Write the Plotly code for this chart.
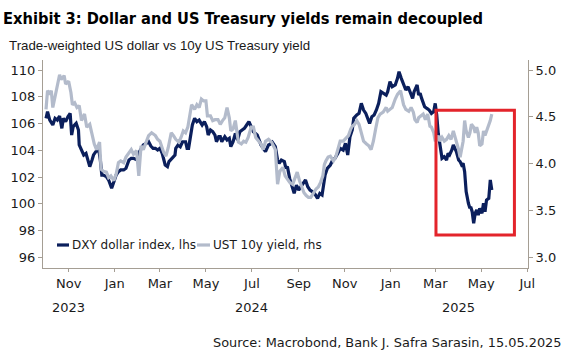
import plotly.graph_objects as go

# ---------------- data ----------------
dxy_dates = [
    "2023-10-02","2023-10-04","2023-10-07","2023-10-11","2023-10-14","2023-10-17","2023-10-20",
    "2023-10-23","2023-10-25","2023-10-28","2023-10-31","2023-11-03","2023-11-05","2023-11-07",
    "2023-11-11","2023-11-14","2023-11-15","2023-11-18","2023-11-21","2023-11-24","2023-11-27",
    "2023-11-29","2023-12-02","2023-12-04","2023-12-07","2023-12-11","2023-12-13","2023-12-15",
    "2023-12-17","2023-12-21","2023-12-24","2023-12-28","2023-12-31","2024-01-03","2024-01-06",
    "2024-01-09","2024-01-13","2024-01-16","2024-01-20","2024-01-23","2024-01-26","2024-01-31",
    "2024-02-03","2024-02-06","2024-02-08","2024-02-12","2024-02-15","2024-02-18","2024-02-21",
    "2024-02-24","2024-02-27","2024-03-01","2024-03-04","2024-03-08","2024-03-11","2024-03-13",
    "2024-03-17","2024-03-21","2024-03-22","2024-03-25","2024-03-28","2024-03-31","2024-04-04",
    "2024-04-06","2024-04-08","2024-04-10","2024-04-13","2024-04-16","2024-04-19","2024-04-22",
    "2024-04-26","2024-04-29","2024-05-02","2024-05-04","2024-05-07","2024-05-10","2024-05-13",
    "2024-05-15","2024-05-18","2024-05-20","2024-05-22","2024-05-26","2024-05-29","2024-06-01",
    "2024-06-03","2024-06-06","2024-06-09","2024-06-12","2024-06-15","2024-06-18","2024-06-21",
    "2024-06-24","2024-06-27","2024-07-03","2024-07-08","2024-07-13","2024-07-16","2024-07-19",
    "2024-07-23","2024-07-25","2024-07-28","2024-08-01","2024-08-04","2024-08-06","2024-08-09",
    "2024-08-13","2024-08-15","2024-08-17","2024-08-20","2024-08-23","2024-08-26","2024-08-29",
    "2024-09-01","2024-09-04","2024-09-08","2024-09-10","2024-09-13","2024-09-16","2024-09-19",
    "2024-09-22","2024-09-26","2024-09-29","2024-10-02","2024-10-04","2024-10-06","2024-10-09",
    "2024-10-13","2024-10-16","2024-10-19","2024-10-23","2024-10-26","2024-10-30","2024-11-02",
    "2024-11-05","2024-11-08","2024-11-11","2024-11-13","2024-11-17","2024-11-20","2024-11-23",
    "2024-11-26","2024-11-29","2024-12-02","2024-12-04","2024-12-07","2024-12-10","2024-12-13",
    "2024-12-16","2024-12-19","2024-12-23","2024-12-26","2024-12-28","2024-12-31","2025-01-03",
    "2025-01-07","2025-01-10","2025-01-12","2025-01-15","2025-01-18","2025-01-21","2025-01-24",
    "2025-01-27","2025-01-30","2025-02-01","2025-02-05","2025-02-07","2025-02-09","2025-02-11",
    "2025-02-15","2025-02-18","2025-02-21","2025-02-24","2025-02-27","2025-03-01","2025-03-03",
    "2025-03-05","2025-03-07","2025-03-10","2025-03-13","2025-03-16","2025-03-18","2025-03-20",
    "2025-03-23","2025-03-25","2025-03-27","2025-03-29","2025-04-01","2025-04-03","2025-04-05",
    "2025-04-07","2025-04-09","2025-04-11","2025-04-14","2025-04-16","2025-04-17","2025-04-19",
    "2025-04-21","2025-04-23","2025-04-25","2025-04-27","2025-04-29","2025-05-02","2025-05-04",
    "2025-05-06","2025-05-08","2025-05-11","2025-05-13","2025-05-15",
]
dxy_values = [
    106.39,106.89,106.26,105.89,106.39,106.26,106.56,
    105.64,106.39,106.14,106.51,106.76,105.14,105.77,
    106.01,105.52,104.40,104.02,103.65,103.77,103.27,
    102.78,103.27,103.65,103.90,104.02,103.27,102.15,
    102.15,102.03,101.78,101.16,101.65,102.15,102.40,
    102.53,102.53,102.65,103.27,103.40,103.40,103.27,
    103.90,104.27,104.40,104.52,104.64,104.32,104.15,
    104.15,104.02,104.15,103.77,102.90,102.78,103.15,
    103.40,103.65,104.15,104.40,104.27,104.64,104.64,
    104.15,104.15,104.77,105.89,106.39,106.14,106.26,
    105.89,106.14,105.77,105.14,105.52,105.39,105.14,
    104.64,105.02,105.02,104.64,105.02,104.77,104.89,
    104.27,104.64,105.27,104.77,105.39,105.52,105.64,
    105.89,106.14,105.39,105.14,104.40,104.15,103.90,
    104.40,104.45,104.60,104.27,103.27,103.02,103.27,
    103.15,102.65,102.78,101.90,101.40,100.78,101.40,
    101.03,101.28,101.65,101.78,101.28,101.03,100.91,
    100.78,100.41,100.78,100.66,101.40,102.15,102.65,
    102.90,103.27,103.40,103.77,104.15,104.02,104.52,
    103.65,105.02,105.52,106.39,106.64,106.76,107.51,
    107.01,106.76,106.26,106.01,106.51,106.64,107.01,
    107.51,108.38,108.26,108.13,108.38,109.13,108.75,
    108.88,109.38,109.88,109.38,108.88,108.51,108.75,
    108.26,107.88,108.38,108.88,108.13,108.26,107.88,
    107.26,107.13,107.01,106.76,106.89,107.51,106.64,
    105.27,104.40,103.40,103.52,103.27,103.77,103.65,
    104.02,104.40,104.15,103.90,103.27,103.15,102.90,
    103.02,102.40,100.91,100.04,99.66,99.79,99.41,
    98.54,99.29,99.54,99.16,99.66,99.29,100.04,
    99.41,100.28,100.41,101.78,101.03,
]

ust_dates = [
    "2023-10-02","2023-10-04","2023-10-07","2023-10-09","2023-10-11","2023-10-15","2023-10-18",
    "2023-10-20","2023-10-22","2023-10-26","2023-10-28","2023-11-01","2023-11-04","2023-11-06",
    "2023-11-09","2023-11-12","2023-11-15","2023-11-18","2023-11-22","2023-11-25","2023-11-29",
    "2023-12-02","2023-12-05","2023-12-08","2023-12-12","2023-12-14","2023-12-17","2023-12-21",
    "2023-12-24","2023-12-27","2023-12-31","2024-01-03","2024-01-06","2024-01-09","2024-01-13",
    "2024-01-16","2024-01-20","2024-01-23","2024-01-26","2024-01-30","2024-02-02","2024-02-05",
    "2024-02-08","2024-02-12","2024-02-15","2024-02-19","2024-02-24","2024-02-27","2024-03-01",
    "2024-03-06","2024-03-09","2024-03-12","2024-03-16","2024-03-19","2024-03-22","2024-03-26",
    "2024-03-29","2024-04-01","2024-04-04","2024-04-07","2024-04-10","2024-04-12","2024-04-16",
    "2024-04-19","2024-04-22","2024-04-25","2024-04-28","2024-05-01","2024-05-03","2024-05-07",
    "2024-05-10","2024-05-13","2024-05-17","2024-05-20","2024-05-23","2024-05-26","2024-05-29",
    "2024-06-01","2024-06-03","2024-06-06","2024-06-09","2024-06-11","2024-06-13","2024-06-17",
    "2024-06-20","2024-06-23","2024-06-26","2024-06-30","2024-07-03","2024-07-06","2024-07-10",
    "2024-07-13","2024-07-16","2024-07-19","2024-07-23","2024-07-27","2024-08-01","2024-08-04",
    "2024-08-07","2024-08-11","2024-08-14","2024-08-17","2024-08-20","2024-08-24","2024-08-27",
    "2024-08-30","2024-09-02","2024-09-05","2024-09-08","2024-09-11","2024-09-14","2024-09-17",
    "2024-09-21","2024-09-24","2024-09-27","2024-09-30","2024-10-03","2024-10-05","2024-10-07",
    "2024-10-10","2024-10-13","2024-10-17","2024-10-20","2024-10-23","2024-10-26","2024-10-30",
    "2024-11-03","2024-11-06","2024-11-09","2024-11-11","2024-11-14","2024-11-17","2024-11-20",
    "2024-11-23","2024-11-26","2024-11-30","2024-12-03","2024-12-06","2024-12-09","2024-12-12",
    "2024-12-15","2024-12-18","2024-12-22","2024-12-26","2024-12-28","2024-12-31","2025-01-03",
    "2025-01-07","2025-01-10","2025-01-14","2025-01-16","2025-01-18","2025-01-21","2025-01-25",
    "2025-01-28","2025-01-31","2025-02-02","2025-02-05","2025-02-07","2025-02-10","2025-02-13",
    "2025-02-16","2025-02-19","2025-02-22","2025-02-24","2025-02-27","2025-03-01","2025-03-03",
    "2025-03-05","2025-03-07","2025-03-10","2025-03-13","2025-03-16","2025-03-19","2025-03-22",
    "2025-03-25","2025-03-27","2025-03-29","2025-04-01","2025-04-03","2025-04-05","2025-04-07",
    "2025-04-09","2025-04-11","2025-04-14","2025-04-16","2025-04-18","2025-04-21","2025-04-23",
    "2025-04-25","2025-04-27","2025-04-29","2025-05-02","2025-05-04","2025-05-06","2025-05-08",
    "2025-05-11","2025-05-13","2025-05-15",
]
ust_values = [
    4.58,4.78,4.74,4.78,4.60,4.74,4.88,
    4.95,4.90,4.94,4.85,4.88,4.76,4.63,
    4.65,4.60,4.62,4.46,4.53,4.39,4.42,
    4.30,4.21,4.15,4.23,3.94,3.92,3.91,
    3.85,3.87,3.82,3.89,4.01,4.03,4.01,
    4.07,4.12,4.15,4.10,4.14,3.87,4.19,
    4.15,4.24,4.30,4.33,4.30,4.26,4.24,
    4.12,4.08,4.17,4.33,4.30,4.26,4.23,
    4.28,4.35,4.33,4.39,4.53,4.63,4.58,
    4.63,4.60,4.69,4.67,4.67,4.51,4.51,
    4.46,4.47,4.47,4.42,4.46,4.49,4.60,
    4.49,4.35,4.37,4.46,4.35,4.23,4.21,
    4.24,4.23,4.28,4.39,4.39,4.28,4.24,
    4.21,4.15,4.24,4.26,4.23,4.15,3.78,
    3.92,3.96,3.87,3.83,3.80,3.78,3.85,
    3.91,3.82,3.75,3.69,3.66,3.64,3.64,
    3.69,3.73,3.75,3.80,3.87,3.99,4.03,
    4.07,4.08,4.03,4.07,4.15,4.24,4.24,
    4.28,4.30,4.37,4.40,4.42,4.46,4.42,
    4.33,4.24,4.21,4.19,4.15,4.24,4.37,
    4.49,4.53,4.55,4.60,4.56,4.58,4.60,
    4.69,4.74,4.78,4.70,4.63,4.58,4.56,
    4.60,4.55,4.47,4.44,4.49,4.51,4.53,
    4.47,4.53,4.40,4.39,4.33,4.24,4.26,
    4.30,4.24,4.28,4.24,4.26,4.30,4.26,
    4.35,4.30,4.23,4.15,4.07,4.14,4.24,
    4.46,4.35,4.28,4.33,4.42,4.39,4.33,
    4.39,4.33,4.19,4.21,4.35,4.30,4.35,
    4.40,4.46,4.53,
]

month_ticks = ["2023-11-01","2024-01-01","2024-03-01","2024-05-01","2024-07-01","2024-09-01",
               "2024-11-01","2025-01-01","2025-03-01","2025-05-01","2025-07-01"]
month_labels = ["Nov","Jan","Mar","May","Jul","Sep","Nov","Jan","Mar","May","Jul"]
year_labels = ["2023","2024","2025"]
year_positions = ["2023-11-01","2024-07-01","2025-04-01"]

lhs_ticks = [96, 98, 100, 102, 104, 106, 108, 110]
rhs_ticks = [3.0, 3.5, 4.0, 4.5, 5.0]

highlight_x = ["2025-03-02", "2025-06-14"]
highlight_y = [97.67, 107.0]

series_names = ["DXY dollar index, lhs", "UST 10y yield, rhs"]
title_text = "Exhibit 3: Dollar and US Treasury yields remain decoupled"
subtitle_text = "Trade-weighted US dollar vs 10y US Treasury yield"
source_text = "Source: Macrobond, Bank J. Safra Sarasin, 15.05.2025"

# ---------------- style ----------------
NAVY = "#0b1f5c"
LIGHT = "#b3bbcb"
AXIS = "#a59e94"
RED = "#e3242b"
TXT = "#1a1a1a"
FONT = "DejaVu Sans"

W, H = 572, 352
ML, MR, MT, MB = 43, 44, 60, 84
PW, PH = W - ML - MR, H - MT - MB

def px_to_paper_x(px):
    return (px - ML) / PW

def px_to_paper_y(py):
    return (H - MB - py) / PH

fig = go.Figure()
fig.add_trace(go.Scatter(x=dxy_dates, y=dxy_values, mode="lines", name=series_names[0],
                         line=dict(color=NAVY, width=3.2), yaxis="y", showlegend=False))
fig.add_trace(go.Scatter(x=ust_dates, y=ust_values, mode="lines", name=series_names[1],
                         line=dict(color=LIGHT, width=3.2), yaxis="y2", showlegend=False))

left_range = [95.2, 110.75]
right_range = [3 + (left_range[0] - 96) / 7, 3 + (left_range[1] - 96) / 7]

fig.update_layout(
    width=W, height=H,
    margin=dict(l=ML, r=MR, t=MT, b=MB),
    paper_bgcolor="white", plot_bgcolor="white",
    font=dict(family=FONT, size=13, color=TXT),
    title=dict(text="<b>" + title_text + "</b>", x=3 / W, xref="container", xanchor="left",
               y=1 - 18 / H, yref="container", yanchor="middle",
               font=dict(family="Liberation Sans Narrow, DejaVu Sans Condensed, Roboto", size=16.3, color="#000")),
    xaxis=dict(type="date", range=["2023-09-28", "2025-07-02"], tickmode="array",
               tickvals=month_ticks, ticktext=month_labels, ticks="outside", ticklen=3,
               tickcolor=AXIS, showline=True, linecolor=AXIS, linewidth=1, showgrid=False,
               zeroline=False, tickfont=dict(size=13, color=TXT)),
    yaxis=dict(range=left_range, tickvals=lhs_ticks, ticks="outside", ticklen=4, tickcolor=AXIS,
               showline=True, linecolor=AXIS, linewidth=1, showgrid=False, zeroline=False,
               tickfont=dict(size=13, color=TXT)),
    yaxis2=dict(range=right_range, tickvals=rhs_ticks, tickformat=".1f", overlaying="y", side="right",
                ticks="outside", ticklen=4, tickcolor=AXIS, showline=True, linecolor=AXIS,
                linewidth=1, showgrid=False, zeroline=False, tickfont=dict(size=13, color=TXT)),
    showlegend=False,
)

# highlight box
fig.add_shape(type="rect", xref="x", yref="y", x0=highlight_x[0], x1=highlight_x[1],
              y0=highlight_y[0], y1=highlight_y[1], line=dict(color=RED, width=3),
              fillcolor="rgba(0,0,0,0)")

# legend (custom, inside plot)
leg_y = px_to_paper_y(245)
for (x0, x1, xt), col, name in [((57, 69, 70), NAVY, series_names[0]),
                                 ((197, 210, 211), LIGHT, series_names[1])]:
    fig.add_shape(type="line", xref="paper", yref="paper", x0=px_to_paper_x(x0),
                  x1=px_to_paper_x(x1), y0=leg_y, y1=leg_y, line=dict(color=col, width=3.2))
    fig.add_annotation(text=name, xref="paper", yref="paper", x=px_to_paper_x(xt), y=leg_y,
                       xanchor="left", yanchor="middle", showarrow=False,
                       font=dict(size=12, color=TXT))

# year labels
for lab, pos in zip(year_labels, year_positions):
    fig.add_annotation(text=lab, xref="x", yref="paper", x=pos, y=px_to_paper_y(307),
                       xanchor="center", yanchor="middle", showarrow=False,
                       font=dict(size=13, color=TXT))

# subtitle
fig.add_annotation(text=subtitle_text, xref="paper", yref="paper", x=px_to_paper_x(7),
                   y=px_to_paper_y(45), xanchor="left", yanchor="middle", showarrow=False,
                   font=dict(family="Liberation Sans", size=13.3, color=TXT))
# source
fig.add_annotation(text=source_text, xref="paper", yref="paper", x=px_to_paper_x(563),
                   y=px_to_paper_y(342), xanchor="right", yanchor="middle", showarrow=False,
                   font=dict(size=12.9, color=TXT))

fig.write_html("out.html")
